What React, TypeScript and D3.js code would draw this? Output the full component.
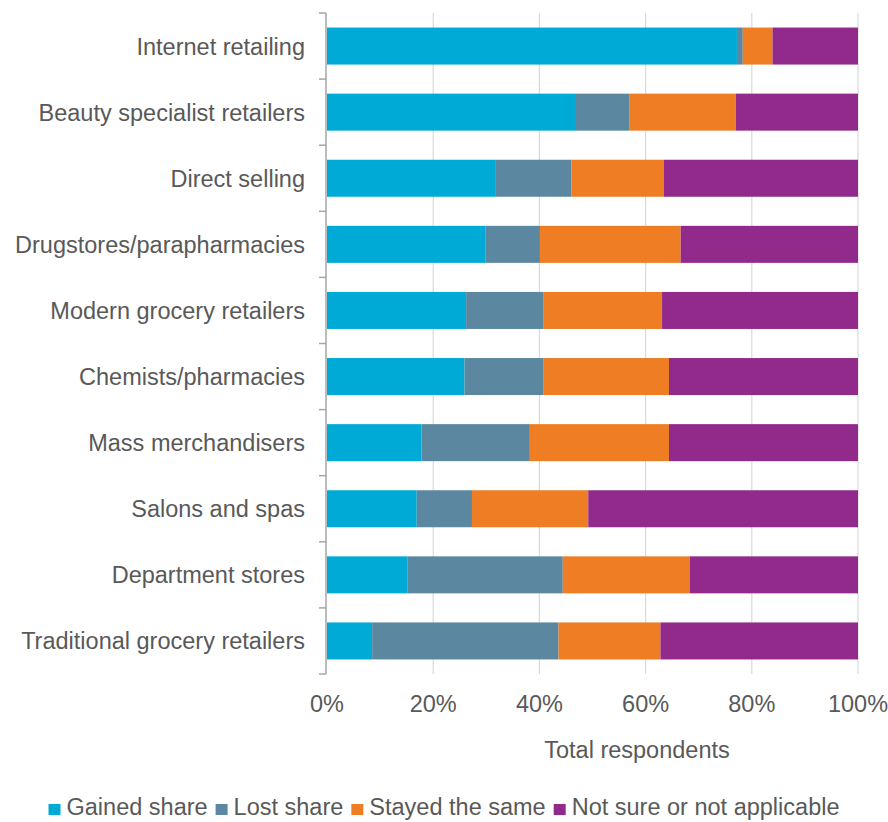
import React, { useEffect, useRef } from "react";
import * as d3 from "d3";

const categories = [
  "Internet retailing",
  "Beauty specialist retailers",
  "Direct selling",
  "Drugstores/parapharmacies",
  "Modern grocery retailers",
  "Chemists/pharmacies",
  "Mass merchandisers",
  "Salons and spas",
  "Department stores",
  "Traditional grocery retailers",
];
const seriesNames = ["Gained share", "Lost share", "Stayed the same", "Not sure or not applicable"];
const gained = [77.2, 46.7, 31.8, 29.8, 26.2, 25.9, 17.8, 16.9, 15.2, 8.5];
const lost = [1.1, 10.2, 14.2, 10.3, 14.5, 14.8, 20.4, 10.4, 29.2, 35.1];
const stayed = [5.6, 20.1, 17.4, 26.5, 22.4, 23.7, 26.2, 21.9, 23.9, 19.2];
const notSure = [16.1, 23.0, 36.6, 33.4, 36.9, 35.6, 35.6, 50.8, 31.7, 37.2];
const tickValues = [0, 20, 40, 60, 80, 100];
const colors = ["#00AAD6", "#5C87A0", "#EE7D23", "#922A8C"];

export default function App() {
  const ref = useRef<SVGSVGElement>(null);
  useEffect(() => {
    const svg = d3.select(ref.current);
    svg.selectAll("*").remove();
    const left = 327, right = 858, top = 13, bottom = 674;
    const x = d3.scaleLinear().domain([0, 100]).range([left, right]);
    const y = d3.scaleBand().domain(categories).range([top, bottom]).paddingInner(0.44).paddingOuter(0.22);
    const font = "Liberation Sans, Arial, sans-serif";
    const fs = 23.5;
    const textColor = "#595959";

    const rows = categories.map((c, i) => ({
      cat: c,
      "Gained share": gained[i],
      "Lost share": lost[i],
      "Stayed the same": stayed[i],
      "Not sure or not applicable": notSure[i],
    }));
    const stack = d3.stack<any>().keys(seriesNames)(rows);

    // gridlines
    svg.append("g").selectAll("line").data(tickValues.filter((t) => t > 0)).join("line")
      .attr("x1", (d) => x(d)).attr("x2", (d) => x(d))
      .attr("y1", top).attr("y2", bottom)
      .attr("stroke", "#D9D9D9").attr("stroke-width", 1.2);

    // bars
    stack.forEach((s, si) => {
      svg.append("g").attr("fill", colors[si]).selectAll("rect").data(s).join("rect")
        .attr("x", (d) => x(d[0]))
        .attr("width", (d) => x(d[1]) - x(d[0]))
        .attr("y", (d) => y(d.data.cat)!)
        .attr("height", y.bandwidth());
    });

    // axis line + ticks
    const axisColor = "#A6A6A6";
    svg.append("line").attr("x1", left - 1).attr("x2", left - 1).attr("y1", top).attr("y2", bottom)
      .attr("stroke", axisColor).attr("stroke-width", 1.5);
    const bounds = d3.range(categories.length + 1).map((i) => top + i * ((bottom - top) / categories.length));
    svg.append("g").selectAll("line").data(bounds).join("line")
      .attr("x1", left - 8).attr("x2", left - 1).attr("y1", (d) => d).attr("y2", (d) => d)
      .attr("stroke", axisColor).attr("stroke-width", 1.5);

    // category labels
    svg.append("g").selectAll("text").data(categories).join("text")
      .attr("x", 305).attr("y", (d) => y(d)! + y.bandwidth() / 2 + 8.5)
      .attr("text-anchor", "end")
      .attr("font-family", font).attr("font-size", fs).attr("fill", textColor)
      .text((d) => d);

    // tick labels
    svg.append("g").selectAll("text").data(tickValues).join("text")
      .attr("x", (d) => x(d)).attr("y", 711.5).attr("text-anchor", "middle")
      .attr("font-family", font).attr("font-size", fs).attr("fill", textColor)
      .text((d) => `${d}%`);

    svg.append("text").attr("x", 637).attr("y", 758)
      .attr("text-anchor", "middle").attr("font-family", font).attr("font-size", fs)
      .attr("fill", textColor).text("Total respondents");

    // legend
    const lg = svg.append("g");
    let cx = 0;
    seriesNames.forEach((n, i) => {
      const g = lg.append("g").attr("transform", `translate(${cx},0)`);
      g.append("rect").attr("x", 0).attr("y", -11).attr("width", 12).attr("height", 11).attr("fill", colors[i]);
      const t = g.append("text").attr("x", 18).attr("y", 0)
        .attr("font-family", font).attr("font-size", fs).attr("fill", textColor).text(n);
      const w = (t.node() as SVGTextElement).getComputedTextLength();
      cx += 18 + w + 8;
    });
    const total = cx - 8;
    lg.attr("transform", `translate(${444 - total / 2},815)`);
  }, []);
  return <svg ref={ref} width={888} height={822} style={{ position: "absolute", left: 0, top: 0, display: "block" }} />;
}
